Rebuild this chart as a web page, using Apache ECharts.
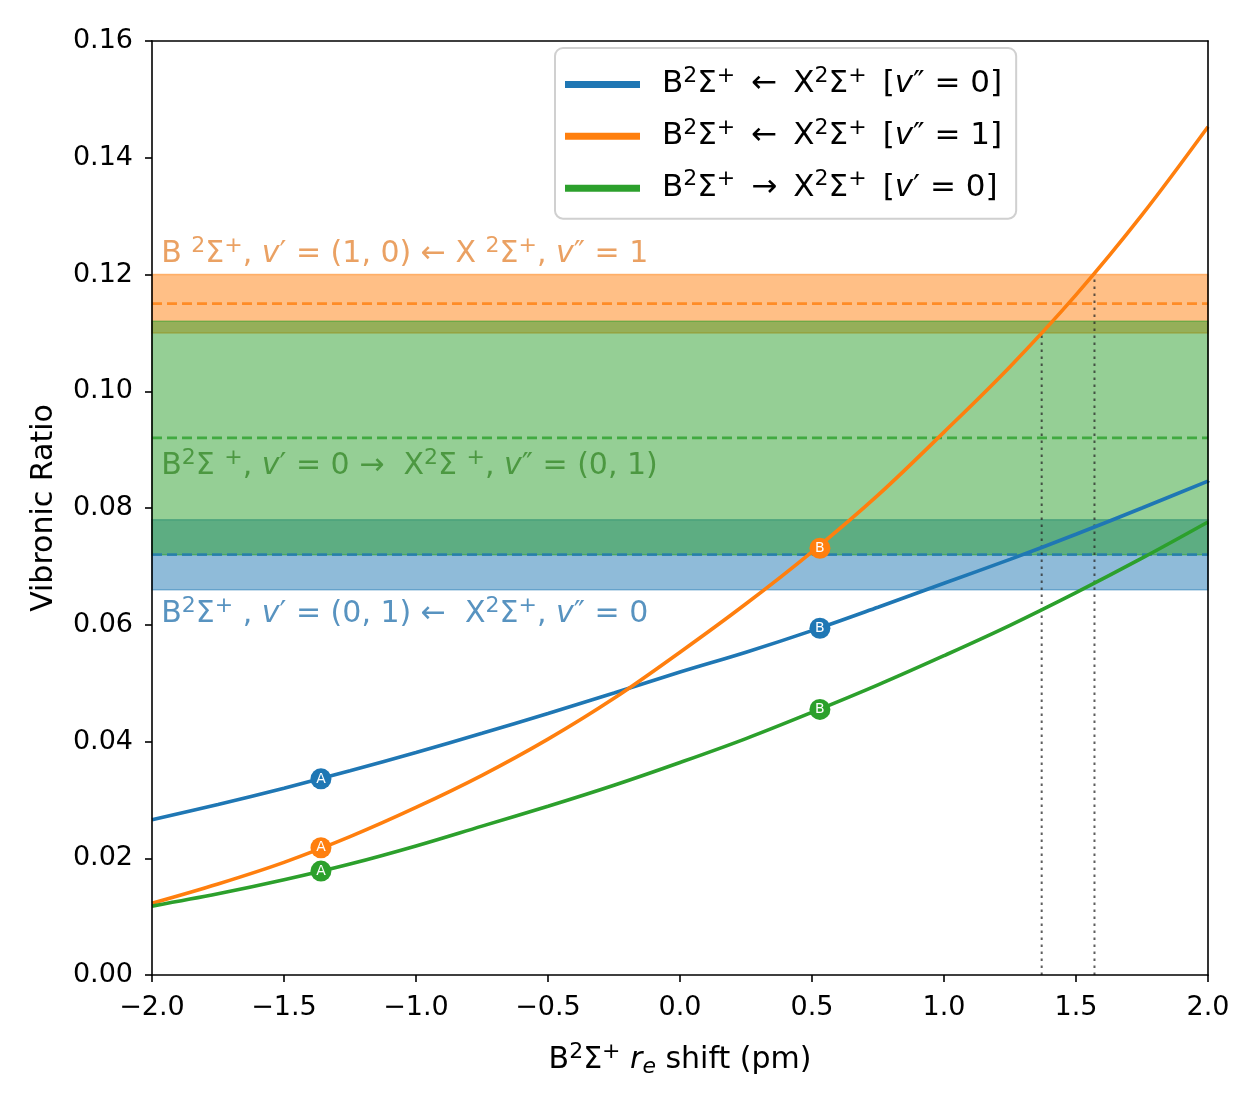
<!DOCTYPE html>
<html><head><meta charset="utf-8">
<script src="https://cdn.jsdelivr.net/npm/echarts@6/dist/echarts.min.js"></script>
<style>html,body{margin:0;padding:0;background:#fff}#c{width:1259px;height:1102px}</style>
</head><body><div id="c"></div>
<script>
// ---- data ----
const xs      = [-2,-1.75,-1.5,-1.25,-1,-0.75,-0.5,-0.25,0,0.25,0.5,0.75,1,1.25,1.5,1.75,2];
const blueY   = [0.0266,0.0292,0.0320,0.0350,0.0381,0.0414,0.0448,0.0483,0.0519,0.0553,0.0590,0.0630,0.0671,0.0712,0.0755,0.0800,0.0846];
const orangeY = [0.0123,0.0156,0.0193,0.0237,0.0287,0.0342,0.0404,0.0474,0.0553,0.0636,0.0725,0.0822,0.0930,0.1042,0.1165,0.1302,0.1453];
const greenY  = [0.0118,0.0139,0.0163,0.0190,0.0221,0.0255,0.0289,0.0325,0.0364,0.0405,0.0450,0.0497,0.0547,0.0599,0.0655,0.0714,0.0776];
const markerX = [-1.36, 0.53];
const markerLabels = ['A','B'];
const blueMarkers   = [0.0336, 0.0594];
const orangeMarkers = [0.0218, 0.0731];
const greenMarkers  = [0.0178, 0.0455];
// bands: [low, centre, high]
const blueBand   = [0.066, 0.072, 0.078];
const orangeBand = [0.110, 0.115, 0.120];
const greenBand  = [0.072, 0.092, 0.112];
const dropX = [1.37, 1.57];
const dropY = [0.110, 0.120];
const xRange = [-2, 2];

const C = {blue:'#1f77b4', orange:'#ff7f0e', green:'#2ca02c'};
const FONT = 'DejaVu Sans';

function pairs(xa, ya){ return xa.map((x,i)=>[x, ya[i]]); }

function richSet(size, color){
  const sup = Math.round(size*0.72);
  return {
    n:{fontSize:size, fontFamily:FONT, color:color, lineHeight:size*1.25},
    i:{fontSize:size, fontFamily:FONT, color:color, fontStyle:'italic', lineHeight:size*1.25},
    s:{fontSize:sup, fontFamily:FONT, color:color, verticalAlign:'top', lineHeight:sup*1.0},
    b:{fontSize:sup, fontFamily:FONT, color:color, fontStyle:'italic', verticalAlign:'bottom', lineHeight:sup*1.0}
  };
}

const names = ['blue0','orange1','green0'];
const legendText = {
  blue0:   '{n|B}{s|2}{n|Σ}{s|+}{n| \u2009←\u2009 X}{s|2}{n|Σ}{s|+}{n| \u2009[}{i|v}{n|″ = 0]}',
  orange1: '{n|B}{s|2}{n|Σ}{s|+}{n| \u2009←\u2009 X}{s|2}{n|Σ}{s|+}{n| \u2009[}{i|v}{n|″ = 1]}',
  green0:  '{n|B}{s|2}{n|Σ}{s|+}{n| \u2009→\u2009 X}{s|2}{n|Σ}{s|+}{n| \u2009[}{i|v}{n|′ = 0]}'
};

function bandSeries(band, color){
  return {
    type:'line', data:[], z:1, silent:true,
    markArea:{silent:true, itemStyle:{color:color, opacity:0.5, borderColor:color, borderWidth:1.5},
      data:[[{yAxis:band[0]},{yAxis:band[2]}]]}
  };
}
function midLine(band, color){
  return {type:'line', data:[[xRange[0], band[1]],[xRange[1], band[1]]], showSymbol:false, z:2, silent:true,
    lineStyle:{color:color, type:[10,5], width:2.8, opacity:0.8}};
}
function curve(name, ys, color){
  return {name:name, type:'line', data:pairs(xs, ys), smooth:0.35, showSymbol:false, z:5,
    lineStyle:{color:color, width:3.6}, itemStyle:{color:color}};
}
function markers(ys, color){
  return {type:'scatter', data:pairs(markerX, ys), symbol:'circle', symbolSize:21, z:6,
    itemStyle:{color:color, opacity:1},
    label:{show:true, position:'inside', color:'#fff', fontSize:14, fontFamily:FONT,
      formatter:p=>markerLabels[p.dataIndex]}};
}
function annot(pos, text, color){
  return {type:'scatter', data:[pos], symbolSize:0, z:7, silent:true,
    label:{show:true, position:'right', distance:0, formatter:text, rich:richSet(30, color)}};
}
function drop(i){
  return {type:'line', data:[[dropX[i],0],[dropX[i],dropY[i]]], showSymbol:false, z:4, silent:true,
    lineStyle:{color:'rgba(40,40,40,0.75)', width:2, type:[2.5,4.5]}};
}

const fmtX = v => (v<0?'\u2212':'') + Math.abs(v).toFixed(1);
const fmtY = v => v.toFixed(2);
const frame = {show:true, onZero:false, lineStyle:{color:'#000', width:1.6}};

const option = {
  animation:false,
  backgroundColor:'#fff',
  grid:{left:152, top:41, width:1056, height:934, show:false},
  xAxis:[{type:'value', min:-2, max:2, interval:0.5, z:10,
      axisLine:frame,
      axisTick:{show:true, length:7, lineStyle:{color:'#000', width:1.6}},
      splitLine:{show:false},
      axisLabel:{formatter:fmtX, fontSize:27, fontFamily:FONT, color:'#000', margin:19},
      name:'{n|B}{s|2}{n|Σ}{s|+}{n| }{i|r}{b|e}{n| shift (pm)}', nameLocation:'middle', nameGap:66,
      nameTextStyle:{rich:richSet(30,'#000')}},
    {type:'value', position:'top', min:-2, max:2, z:10,
      axisLine:frame, axisTick:{show:false}, axisLabel:{show:false}, splitLine:{show:false}}],
  yAxis:[{type:'value', min:0, max:0.16, interval:0.02, z:10,
      axisLine:frame,
      axisTick:{show:true, length:7, lineStyle:{color:'#000', width:1.6}},
      splitLine:{show:false},
      axisLabel:{formatter:fmtY, fontSize:27, fontFamily:FONT, color:'#000', margin:19},
      name:'Vibronic Ratio', nameLocation:'middle', nameGap:93, nameRotate:90,
      nameTextStyle:{fontSize:30, fontFamily:FONT, color:'#000'}},
    {type:'value', position:'right', min:0, max:0.16, z:10,
      axisLine:frame, axisTick:{show:false}, axisLabel:{show:false}, splitLine:{show:false}}],
  legend:{data:names, orient:'vertical', left:555, top:48, padding:[17,14,15,10],
    itemWidth:75, itemHeight:7, itemGap:17, icon:'rect',
    backgroundColor:'rgba(255,255,255,0.85)', borderColor:'#d0d0d0', borderWidth:2, borderRadius:8,
    formatter:n=>legendText[n],
    textStyle:{padding:[0,0,0,17], rich:richSet(31,'#000')}},
  series:[
    bandSeries(blueBand, C.blue),
    bandSeries(orangeBand, C.orange),
    bandSeries(greenBand, C.green),
    midLine(blueBand, C.blue),
    midLine(orangeBand, C.orange),
    midLine(greenBand, C.green),
    drop(0), drop(1),
    curve('blue0', blueY, C.blue),
    curve('orange1', orangeY, C.orange),
    curve('green0', greenY, C.green),
    markers(blueMarkers, C.blue),
    markers(orangeMarkers, C.orange),
    markers(greenMarkers, C.green),
    annot([-1.965, 0.1235], '{n|B }{s|2}{n|Σ}{s|+}{n|, }{i|v}{n|′ = (1, 0) ← X }{s|2}{n|Σ}{s|+}{n|, }{i|v}{n|″ = 1}', '#e58a3c'),
    annot([-1.965, 0.0872], '{n|B}{s|2}{n|Σ }{s|+}{n|, }{i|v}{n|′ = 0 →  X}{s|2}{n|Σ }{s|+}{n|, }{i|v}{n|″ = (0, 1)}', '#3a8a2c'),
    annot([-1.965, 0.0618], '{n|B}{s|2}{n|Σ}{s|+}{n| , }{i|v}{n|′ = (0, 1) ←  X}{s|2}{n|Σ}{s|+}{n|, }{i|v}{n|″ = 0}', '#2e78b0')
  ]
};
const chart = echarts.init(document.getElementById('c'), null, {renderer:'canvas'});
chart.setOption(option);
</script></body></html>
